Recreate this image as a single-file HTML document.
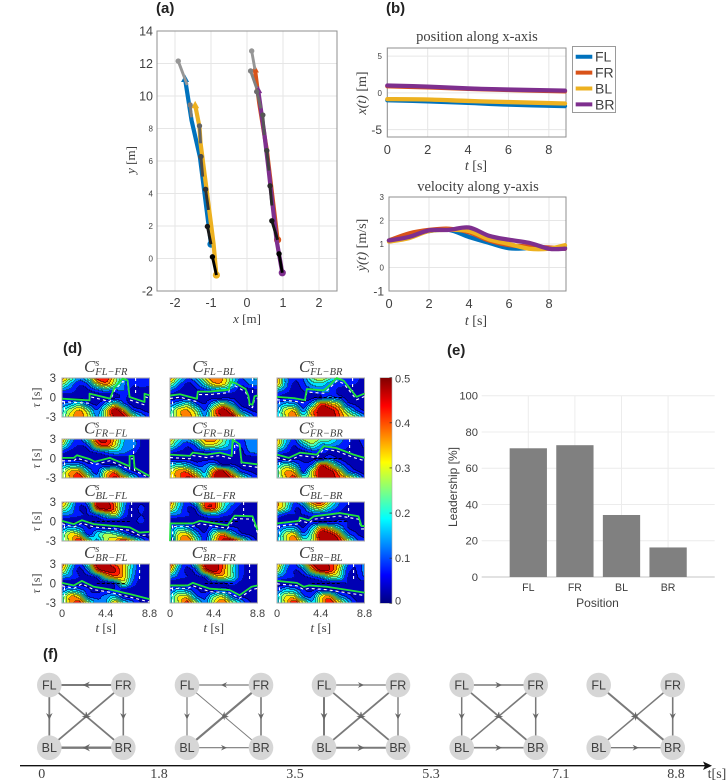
<!DOCTYPE html>
<html lang="en">
<head>
<meta charset="utf-8">
<title>Leadership analysis figure</title>
<style>
html,body{margin:0;padding:0;background:#fff;width:727px;height:784px;overflow:hidden}
svg{display:block}
text{font-family:"Liberation Sans",sans-serif;fill:#404040}
.serif{font-family:"Liberation Serif",serif}
.panel{font-weight:bold;font-size:15px;fill:#222}
.ital{font-style:italic}
</style>
</head>
<body>
<svg id="fig" xmlns="http://www.w3.org/2000/svg" width="727" height="784" viewBox="0 0 727 784">
  <defs>
    <filter id="soft" x="0" y="0" width="100%" height="100%" color-interpolation-filters="sRGB"><feGaussianBlur stdDeviation="0.35"/></filter>
  </defs>
  <rect x="0" y="0" width="727" height="784" fill="#fff"/>
  <text class="panel" x="156" y="13">(a)</text>
  <text class="panel" x="386" y="13">(b)</text>
  <text class="panel" x="63" y="353">(d)</text>
  <text class="panel" x="447" y="355">(e)</text>
  <text class="panel" x="43" y="659">(f)</text>

  <text class="serif" font-size="13" text-anchor="middle" x="247" y="323"><tspan class="ital">x</tspan> [m]</text>
  <text class="serif" font-size="13" text-anchor="middle" transform="translate(135,160) rotate(-90)"><tspan class="ital">y</tspan> [m]</text>

  <text class="serif" font-size="14.5" text-anchor="middle" x="477" y="41">position along x-axis</text>
  <text class="serif" font-size="14" text-anchor="middle" x="476" y="170"><tspan class="ital">t</tspan> [s]</text>
  <text class="serif" font-size="14" text-anchor="middle" transform="translate(366,93) rotate(-90)"><tspan class="ital">x(t)</tspan> [m]</text>

  <text class="serif" font-size="14.5" text-anchor="middle" x="478" y="191">velocity along y-axis</text>
  <text class="serif" font-size="14" text-anchor="middle" x="476" y="325"><tspan class="ital">t</tspan> [s]</text>
  <text class="serif" font-size="14" text-anchor="middle" transform="translate(366,245) rotate(-90)"><tspan class="ital">ẏ(t)</tspan> [m/s]</text>

  <text font-size="12" text-anchor="middle" transform="translate(457,487) rotate(-90)">Leadership [%]</text>
  <text font-size="12" text-anchor="middle" x="597.5" y="607">Position</text>

  <text class="serif" font-size="14" text-anchor="middle" x="717" y="778" fill="#222">t[s]</text>
</svg>

<script>
/* ---------- (a) trajectories: [x, y] pairs ---------- */
const trajFL = [[-1.0,0.88],[-1.31,6.27],[-1.54,8.5],[-1.72,11.05]];
const trajFR = [[0.85,1.15],[0.55,6.68],[0.34,9.55],[0.22,11.64]];
const trajBL = [[-0.85,-1.02],[-0.93,0.94],[-1.29,7.1],[-1.32,8.1],[-1.44,9.44]];
const trajBR = [[0.98,-0.88],[0.82,1.15],[0.59,5.66],[0.48,7.7],[0.31,10.37]];
const windowSegments = [
  [[-0.85,-1.02],[-0.96,0.10]],[[-1.0,0.88],[-1.10,1.97]],[[-1.07,2.99],[-1.15,4.26]],[[-1.23,5.04],[-1.28,6.27]],
  [[-1.29,7.09],[-1.32,8.16]],[[-1.54,8.69],[-1.58,9.45]],[[-1.66,10.68],[-1.91,12.15]],
  [[0.98,-0.88],[0.89,0.29]],[[0.85,1.15],[0.69,2.32]],[[0.69,3.26],[0.64,4.47]],[[0.61,5.41],[0.55,6.64]],
  [[0.48,7.6],[0.44,8.83]],[[0.39,9.24],[0.27,10.27]],[[0.27,10.47],[0.10,11.54]],[[0.22,11.64],[0.13,12.77]]
];
const trajXTicks = [-2,-1,0,1,2];
const trajYTicks = [14,12,10,8,6,4,2,0,-2];

/* ---------- (b) time series ---------- */
const posTimes = [0,2,4,6,8.8];
const posFL = [-1.0,-1.15,-1.35,-1.6,-1.8];
const posFR = [0.9,0.75,0.55,0.4,0.2];
const posBL = [-0.85,-0.9,-1.1,-1.25,-1.45];
const posBR = [1.0,0.85,0.6,0.45,0.3];
const velTimes = [0,1,2,3,4,5,6,7,8,8.8];
const velFL = [1.15,1.4,1.55,1.6,1.3,1.05,0.82,0.82,0.8,0.85];
const velFR = [1.15,1.45,1.6,1.65,1.5,1.15,0.95,0.9,0.85,0.8];
const velBL = [1.1,1.25,1.55,1.6,1.55,1.2,1.0,0.8,0.8,0.95];
const velBR = [1.15,1.3,1.58,1.6,1.7,1.35,1.18,1.05,0.8,0.8];
const timeTicks = [0,2,4,6,8];
const posYTicks = [5,0,-5];
const velYTicks = [3,2,1,0,-1];
const seriesNames = ['FL','FR','BL','BR'];
const seriesColors = ['#0072bd','#d95319','#edb120','#7e2f8e'];

/* ---------- (d) correlation grids, x100; rows tau=3..-3, cols t=0..8.8 ---------- */
const cFLFR = [[38,25,12,22,42,44,30,14,6,6,6],[26,14,6,10,28,36,25,12,6,7,6],[10,8,3,4,8,12,9,10,3,3,3],[3,3,2,2,3,2,3,6,3,2,3],[10,14,20,8,4,14,26,12,3,2,2],[18,28,35,25,10,29,48,35,12,6,3],[20,32,38,30,14,30,46,48,30,15,8]];
const cFLBL = [[38,22,10,16,30,40,35,22,10,14,16],[26,12,4,8,20,32,32,20,6,10,12],[10,5,3,4,6,10,12,8,3,3,4],[3,3,3,2,3,3,3,4,3,2,3],[10,16,22,10,5,18,28,16,4,2,2],[18,32,35,25,10,35,48,37,14,6,3],[20,32,38,30,15,34,46,48,32,16,8]];
const cFLBR = [[38,14,6,10,24,30,22,12,8,6,4],[34,14,4,8,16,18,12,8,6,5,3],[14,8,3,5,8,12,10,4,3,3,3],[5,4,4,3,3,6,12,8,3,2,3],[10,16,14,6,16,40,35,28,8,4,3],[14,30,32,12,35,48,48,39,23,10,4],[16,30,40,22,36,48,50,42,32,24,12]];
const cFRFL = [[36,16,8,24,44,46,34,16,14,5,5],[25,10,5,10,35,41,30,15,14,5,4],[8,4,3,4,8,12,16,12,8,3,3],[3,3,2,3,2,3,3,4,3,3,3],[12,16,14,6,8,4,6,4,3,3,2],[23,35,35,16,8,28,35,14,6,3,2],[26,36,44,30,12,34,46,36,20,8,4]];
const cFRBL = [[34,20,14,26,36,38,26,14,6,14,14],[25,12,6,12,28,28,21,12,6,12,14],[8,5,4,5,6,8,8,8,3,10,12],[3,3,3,3,3,3,3,3,3,3,3],[16,20,16,8,10,16,6,6,3,3,2],[28,37,37,23,14,39,46,28,10,5,3],[30,38,46,38,20,44,48,44,28,14,6]];
const cFRBR = [[36,18,10,26,30,24,22,14,8,4,8],[32,14,5,14,23,14,14,10,6,3,6],[12,7,3,4,7,8,4,4,4,3,4],[4,3,3,4,3,4,10,4,3,3,3],[14,23,16,6,12,41,32,16,6,3,2],[23,35,32,8,30,48,48,35,14,6,2],[22,34,42,24,30,48,50,42,34,22,8]];
const cBLFL = [[38,22,6,16,46,48,36,16,4,4,4],[28,16,5,8,41,48,39,14,3,6,3],[12,10,6,5,10,20,28,10,3,5,3],[4,3,3,3,3,4,4,3,3,6,3],[10,16,12,5,6,4,6,3,2,3,2],[21,32,28,8,18,26,24,16,6,2,2],[22,32,44,28,14,28,34,44,30,16,6]];
const cBLFR = [[38,20,8,22,40,42,24,14,6,3,4],[32,16,5,8,39,41,21,8,4,3,3],[12,10,6,4,10,14,8,5,3,3,3],[3,3,3,3,3,3,3,3,3,3,3],[8,18,14,6,3,10,6,6,4,2,2],[10,30,32,16,6,25,37,21,8,4,2],[4,32,40,24,8,30,46,48,32,14,4]];
const cBLBR = [[36,26,10,18,38,42,28,12,6,4,4],[34,23,6,8,23,28,16,8,4,3,3],[12,6,5,5,7,6,6,4,3,3,3],[3,3,3,3,5,3,3,6,5,3,3],[8,14,14,5,16,35,30,18,6,3,3],[12,28,32,12,25,48,48,37,14,6,3],[14,28,40,24,26,46,50,46,30,12,6]];
const cBRFL = [[38,20,6,24,48,50,40,34,18,5,5],[32,14,4,12,39,48,46,34,16,5,3],[14,10,5,4,8,28,37,34,14,4,3],[3,3,3,3,3,3,8,26,10,3,3],[10,16,12,6,3,4,6,5,3,3,2],[21,35,30,10,8,12,16,5,3,2,2],[22,36,42,26,12,14,34,20,12,5,3]];
const cBRFR = [[42,18,6,22,46,50,40,24,8,4,4],[34,12,4,10,39,48,39,23,8,4,3],[14,8,5,4,8,28,32,23,8,3,3],[3,3,3,3,3,3,4,8,4,3,3],[8,16,12,6,3,4,8,4,3,3,2],[16,30,30,12,8,23,28,12,5,3,3],[18,30,42,26,12,30,40,28,16,6,3]];
const cBRBL = [[36,16,8,24,44,50,44,34,12,5,12],[30,12,5,10,32,46,44,30,8,5,12],[12,8,5,4,8,14,25,23,6,4,10],[3,3,3,3,3,3,3,4,5,3,3],[8,16,14,6,4,8,6,4,3,3,2],[16,30,30,12,10,30,35,16,8,3,2],[18,32,44,30,16,32,44,34,18,6,3]];
const heatGrids = [cFLFR,cFLBL,cFLBR,cFRFL,cFRBL,cFRBR,cBLFL,cBLFR,cBLBR,cBRFL,cBRFR,cBRBL];
const heatSubs = ['FL−FR','FL−BL','FL−BR','FR−FL','FR−BL','FR−BR','BL−FL','BL−FR','BL−BR','BR−FL','BR−FR','BR−BL'];

/* maximum-correlation ridge: [t, tau] pairs */
const ridgeFLFR = [[0,-0.18],[2.77,-0.44],[2.77,0.59],[4.83,-0.18],[5.3,1.6],[6.1,2.9],[6.6,2.64],[6.8,0.08],[8.3,-0.69],[8.3,0.59],[8.8,0.33]];
const ridgeFLBL = [[0,0.3],[1,0.5],[2.7,-0.2],[2.8,0.9],[4,0.9],[5.9,1.2],[6.1,2.4],[6.6,2.2],[7.6,1.3],[7.9,0.2],[8,-1],[8.3,-1.1],[8.5,0.2],[8.8,0.3]];
const ridgeFLBR = [[0,0.1],[1.7,-0.1],[2.8,-0.4],[3,1.3],[4.7,1.1],[5.3,1.9],[6,3],[6.7,2.6],[8,0.1],[8.8,0.6]];
const ridgeFRFL = [[0,0.1],[1.2,0.1],[1.5,0.5],[2.8,-0.1],[3.3,-0.5],[4.8,0.1],[6.8,-1.2],[6.8,0.4],[7.2,0.4],[7.3,-1.4],[8.8,-2.7]];
const ridgeFRBL = [[0,0.6],[2,0.4],[2.3,0.9],[3.7,0.6],[5,0.9],[6.2,0.4],[6.3,2.9],[7,2.2],[7.2,-0.6],[8.8,-0.9]];
const ridgeFRBR = [[0,0.6],[1.2,0.1],[2.3,0.9],[4,0.6],[4.7,1.9],[6,1.6],[7.7,0.6],[8.8,0.1]];
const ridgeBLFL = [[0,0.1],[1.2,-0.4],[2,0.2],[3.2,-0.4],[6.8,-0.9],[7.8,-1.7],[8.8,-1.6]];
const ridgeBLFR = [[0,-3],[0.05,-0.3],[2.3,-0.3],[3,0.1],[5.8,-0.6],[6.5,0.9],[8.3,0.8],[8.8,-1.3]];
const ridgeBLBR = [[0,-0.3],[2.2,0.1],[2.3,0.6],[3.2,0.2],[3.7,0.8],[6.3,1.3],[8.2,0.8],[8.5,-0.7],[8.8,-0.7]];
const ridgeBRFL = [[0,0.1],[1.2,-0.3],[2,0.4],[3.2,-0.5],[4.8,-0.9],[7,-1.7],[8.8,-2.4]];
const ridgeBRFR = [[0,-0.3],[1.8,-0.3],[2.3,0.1],[4,-0.8],[6,-1],[7,-1.8],[8.2,-0.5],[8.8,-0.3]];
const ridgeBRBL = [[0,0.4],[2,0.1],[2.7,-0.5],[3.2,-0.3],[5,-0.5],[8.8,-1.4]];
const ridges = [ridgeFLFR,ridgeFLBL,ridgeFLBR,ridgeFRFL,ridgeFRBL,ridgeFRBR,ridgeBLFL,ridgeBLFR,ridgeBLBR,ridgeBRFL,ridgeBRFR,ridgeBRBL];
const rightDashTimes = [7.4,8.3,7.6,7.2,6.5,7.3,7.0,7.4,7.2,7.8,8.0,7.7];
const zeroDashRanges = [null,null,[3.7,6.7],null,null,[3.7,6.7],[2.5,7],[3,7],[3.7,7],[3.5,6.5],[3.5,6.5],[3.5,6.5]];
const heatTimeTicks = [0,4.4,8.8];
const heatTauTicks = [3,0,-3];
const colorbarTicks = [0,0.1,0.2,0.3,0.4,0.5];

/* ---------- (e) leadership ---------- */
const barCategories = ['FL','FR','BL','BR'];
const barValues = [71,72.7,34.2,16.3];
const barYTicks = [0,20,40,60,80,100];

/* ---------- (f) networks ---------- */
const netTimes = ['0','1.8','3.5','5.3','7.1','8.8'];
const netTimeCenters = [41.7,159,295,431,560.7,676];
const netEdges0 = [['FR','FL',2],['FL','BL',1.8],['FR','BL',1.8],['FL','BR',1.8],['FR','BR',1.6],['BR','BL',2.4]];
const netEdges1 = [['FR','FL',1.2],['FL','BL',1.2],['FR','BL',2.2],['BR','FL',0.9],['FR','BR',1.6],['BL','BR',1.1]];
const netEdges2 = [['FL','FR',1.2],['FL','BL',2],['FL','BR',1.8],['FR','BL',1.8],['FR','BR',1.4],['BL','BR',2]];
const netEdges3 = [['FL','FR',1.6],['FL','BL',1.5],['FL','BR',1.8],['FR','BL',1.6],['FR','BR',1.5],['BL','BR',1.6]];
const netEdges4 = [['FL','BR',2],['BL','FR',1.5],['FR','BR',1.6],['BL','BR',1.3]];
const networks = [netEdges0,netEdges1,netEdges2,netEdges3,netEdges4];

/* ---------- helpers ---------- */
const NS = 'http://www.w3.org/2000/svg';
const fig = document.getElementById('fig');
function mk(tag, attrs, parent){
  const e = document.createElementNS(NS, tag);
  for (const k in attrs) e.setAttribute(k, attrs[k]);
  (parent || fig).appendChild(e);
  return e;
}
function linear(d0,d1,r0,r1){ return v => r0 + (v-d0)*(r1-r0)/(d1-d0); }
function poly(pts){ return pts.map(p => p[0].toFixed(2)+','+p[1].toFixed(2)).join(' '); }
function smoothPath(pts){
  let d = 'M'+pts[0][0].toFixed(2)+' '+pts[0][1].toFixed(2);
  for (let i=0;i<pts.length-1;i++){
    const p0=pts[Math.max(i-1,0)],p1=pts[i],p2=pts[i+1],p3=pts[Math.min(i+2,pts.length-1)];
    d += ' C'+(p1[0]+(p2[0]-p0[0])/6).toFixed(2)+' '+(p1[1]+(p2[1]-p0[1])/6).toFixed(2)+' '+
         (p2[0]-(p3[0]-p1[0])/6).toFixed(2)+' '+(p2[1]-(p3[1]-p1[1])/6).toFixed(2)+' '+p2[0].toFixed(2)+' '+p2[1].toFixed(2);
  }
  return d;
}
function jetRGB(v){
  v = Math.max(0,Math.min(1,v));
  const c = x => Math.round(255*Math.max(0,Math.min(1,1.5-Math.abs(4*v-x))));
  return [c(3),c(2),c(1)];
}
function jet(v){ return 'rgb('+jetRGB(v).join(',')+')'; }
function mixDark(rgb){
  return 'rgb('+rgb.map(x=>Math.round(x*0.62)).join(',')+')';
}
function boxAxes(name,L,T,R,B,xs,ys){
  const g = mk('g',{});
  
  
  xs.forEach(x => {
    const l = mk('line',{x1:x,x2:x,y1:T,y2:B,stroke:'#e6e6e6','stroke-width':1},g);
    
    
  });
  ys.forEach(y => {
    const l = mk('line',{x1:L,x2:R,y1:y,y2:y,stroke:'#e6e6e6','stroke-width':1},g);
    
    
  });
  const box = mk('rect',{x:L,y:T,width:R-L,height:B-T,fill:'none',stroke:'#8f8f8f','stroke-width':1},g);
  
  
  return g;
}
function tickText(str,x,y,size,anchor,g,cls){
  const t = mk('text',{x:x,y:y,'font-size':size,'text-anchor':anchor},g);
  if (cls) t.setAttribute('class',cls);
  t.textContent = str;
  
  
  return t;
}

/* ---------- (a) ---------- */
(function(){
  const X = linear(-2.5,2.5,157,337), Y = linear(14,-2,31,291);
  const g = boxAxes('trajectory-axes',157,31,337,291,trajXTicks.map(X),trajYTicks.map(Y));
  trajYTicks.forEach(v => {
    const big = v>=10 || v<0;
    tickText(v,153,Y(v)+(big?4.5:3),big?12.5:8,'end',g);
  });
  trajXTicks.forEach(v => tickText(v,X(v),307,12.5,'middle',g));
  const series = [trajFL,trajBL,trajFR,trajBR];
  const names = ['FL','BL','FR','BR'];
  const colors = [seriesColors[0],seriesColors[2],seriesColors[1],seriesColors[3]];
  series.forEach((s,i) => {
    const pts = s.map(p => [X(p[0]),Y(p[1])]);
    const line = mk('polyline',{points:poly(pts),fill:'none',stroke:colors[i],'stroke-width':4.2,'stroke-linejoin':'round'},g);
    
    
    const start = mk('circle',{cx:pts[0][0],cy:pts[0][1],r:3.6,fill:colors[i]},g);
    
    
    const e = pts[pts.length-1];
    const tri = mk('polygon',{points:poly([[e[0],e[1]-3],[e[0]-3,e[1]+2.5],[e[0]+3,e[1]+2.5]]),fill:colors[i],stroke:colors[i],'stroke-width':1.2},g);
    
    
  });
  windowSegments.forEach((seg,i) => {
    const idx = i<7 ? i : i-7;
    const n = i<7 ? 6 : 7;
    const shade = Math.round(idx/n*150);
    const col = 'rgb('+shade+','+shade+','+shade+')';
    const a = [X(seg[0][0]),Y(seg[0][1])], b = [X(seg[1][0]),Y(seg[1][1])];
    const l = mk('line',{x1:a[0],y1:a[1],x2:b[0],y2:b[1],stroke:col,'stroke-width':2.9},g);
    
    
    const d = mk('circle',{cx:b[0],cy:b[1],r:2.7,fill:col},g);
    
    
  });
})();

/* ---------- (b) ---------- */
(function(){
  const X = linear(0,8.85,387.3,566), Y = linear(6.1,-6,48,137);
  const g = boxAxes('position-axes',387.3,48,566,137,timeTicks.map(X),posYTicks.map(Y));
  posYTicks.forEach(v => {
    const big = v<0;
    tickText(v,382,Y(v)+(big?4.5:3),big?12:8,'end',g);
  });
  timeTicks.forEach(v => tickText(v,X(v),154,12.8,'middle',g));
  [posFL,posFR,posBL,posBR].forEach((s,i) => {
    const p = mk('path',{d:smoothPath(s.map((v,j)=>[X(posTimes[j]),Y(v)])),fill:'none',stroke:seriesColors[i],'stroke-width':4.3,'stroke-linecap':'round'},g);
    
    
  });
})();
(function(){
  const X = linear(0,8.85,389,566), Y = linear(3,-1,197,291);
  const g = boxAxes('velocity-axes',389,197,566,291,timeTicks.map(X),velYTicks.map(Y));
  velYTicks.forEach(v => {
    const big = v<0;
    tickText(v,384,Y(v)+(big?4.5:3),big?12:8,'end',g);
  });
  timeTicks.forEach(v => tickText(v,X(v),308,12.8,'middle',g));
  [velFL,velFR,velBL,velBR].forEach((s,i) => {
    const p = mk('path',{d:smoothPath(s.map((v,j)=>[X(velTimes[j]),Y(v)])),fill:'none',stroke:seriesColors[i],'stroke-width':4.3,'stroke-linecap':'round'},g);
    
    
  });
})();
/* legend */
(function(){
  const g = mk('g',{});
  
  
  const box = mk('rect',{x:572.5,y:46.5,width:43,height:66,fill:'#fff',stroke:'#9a9a9a','stroke-width':1},g);
  
  
  seriesNames.forEach((n,i) => {
    const y = 56.7 + i*15.9;
    const l = mk('line',{x1:575.7,x2:592.3,y1:y,y2:y,stroke:seriesColors[i],'stroke-width':4},g);
    
    
    const t = mk('text',{x:595,y:y+5,'font-size':14,fill:'#333'},g);
    t.textContent = n;
    
    
  });
})();

/* ---------- (d) ---------- */
(function(){
  const colsX = [62,170,277], rowsY = [378,439,502,564], W = 87.5, H = 39;
  const titleY = [372,433.5,496,558];
  function cr(a,b,c,d,t){ return 0.5*((2*b)+(c-a)*t+(2*a-5*b+4*c-d)*t*t+(3*b-a-3*c+d)*t*t*t); }
  function sample(grid,tx,ty){
    const nr=grid.length,nc=grid[0].length;
    const fx=tx*(nc-1),fy=ty*(nr-1);
    const ix=Math.min(Math.floor(fx),nc-2),iy=Math.min(Math.floor(fy),nr-2);
    const u=fx-ix,v=fy-iy;
    const rowAt=r=>{
      const R=grid[Math.max(0,Math.min(nr-1,r))];
      return cr(R[Math.max(ix-1,0)],R[ix],R[ix+1],R[Math.min(ix+2,nc-1)],u);
    };
    return Math.max(0,Math.min(49.9,cr(rowAt(iy-1),rowAt(iy),rowAt(iy+1),rowAt(iy+2),v)));
  }
  heatGrids.forEach((grid,idx) => {
    const col = idx%3, row = Math.floor(idx/3);
    const L = colsX[col], T = rowsY[row];
    const X = linear(0,8.8,L,L+W), Y = linear(3,-3,T,T+H);
    const g = mk('g',{});
    
    
    const cells = mk('g',{'shape-rendering':'crispEdges',filter:'url(#soft)'},g);
    const nx = 88, ny = 39;
    const lev = [];
    for (let j=0;j<ny;j++){ lev.push([]); for (let i=0;i<nx;i++){ lev[j].push(Math.floor(sample(grid,(i+0.5)/nx,(j+0.5)/ny)/5)); } }
    for (let j=0;j<ny;j++){
      let i=0;
      const key = k => {
        const l = lev[j][k];
        const edge = (k+1<nx && lev[j][k+1]!==l) || (j+1<ny && lev[j+1][k]!==l);
        return l*2+(edge?1:0);
      };
      while(i<nx){
        let s=i; const kk=key(i);
        while(i<nx && key(i)===kk) i++;
        const l=Math.floor(kk/2), ed=kk%2===1;
        const fill = ed ? mixDark(jetRGB((l+0.5)/10)) : jet((l+0.5)/10);
        const c = mk('rect',{x:L+s,y:T+j,width:i-s,height:1,fill:fill},cells);
        
        
      }
    }
    const border = mk('rect',{x:L,y:T,width:W,height:H,fill:'none',stroke:'#a8a8a8','stroke-width':1},g);
    
    
    /* significance dashes */
    const dashAttrs = {fill:'none',stroke:'#fff','stroke-width':1.1,'stroke-dasharray':'3 3'};
    const wp = ridges[idx].map(p => [X(p[0]),Y(Math.max(-3,Math.min(3,p[1]-0.45)))]);
    const w = mk('polyline',Object.assign({points:poly(wp)},dashAttrs),g);
    
    
    const lv = mk('line',Object.assign({x1:X(0.25),x2:X(0.25),y1:Y(-0.6),y2:Y(-3)},dashAttrs),g);
    
    
    const rv = mk('line',Object.assign({x1:X(rightDashTimes[idx]),x2:X(rightDashTimes[idx]),y1:Y(3),y2:Y(0.5)},dashAttrs),g);
    
    
    if (zeroDashRanges[idx]){
      const z = mk('line',{x1:X(zeroDashRanges[idx][0]),x2:X(zeroDashRanges[idx][1]),y1:Y(0),y2:Y(0),stroke:'#000','stroke-width':1,'stroke-dasharray':'3 2'},g);
      
      
    }
    const green = mk('polyline',{points:poly(ridges[idx].map(p=>[X(p[0]),Y(p[1])])),fill:'none',stroke:'#1fe23a','stroke-width':1.8,'stroke-linejoin':'round'},g);
    
    
    /* title */
    const t = mk('text',{x:L+W/2,y:titleY[row],class:'serif ital','text-anchor':'middle','font-size':17,fill:'#444'},g);
    
    
    t.appendChild(document.createTextNode('C'));
    const sup = mk('tspan',{'font-size':10,dy:-6},t);
    sup.textContent='s';
    const sub = mk('tspan',{'font-size':10.5,dy:9,dx:-4},t);
    sub.textContent=heatSubs[idx];
    /* ticks */
    if (col===0){
      heatTauTicks.forEach(v => tickText(v,56,Y(v)+4,11.5,'end',g));
      const tl = mk('text',{class:'serif','font-size':12,'text-anchor':'middle',transform:'translate('+(40)+','+(T+H/2)+') rotate(-90)'},g);
      
      
      const tau = mk('tspan',{class:'ital'},tl);
      tau.textContent='τ';
      tl.appendChild(document.createTextNode(' [s]'));
    }
    if (row===3){
      heatTimeTicks.forEach(v => tickText(v,X(v),617,11,'middle',g));
      const tb = mk('text',{class:'serif','font-size':13,'text-anchor':'middle',x:L+W/2,y:632},g);
      
      
      const tt = mk('tspan',{class:'ital'},tb);
      tt.textContent='t';
      tb.appendChild(document.createTextNode(' [s]'));
    }
  });
  /* colorbar */
  const cb = mk('g',{});
  
  
  const Yc = linear(0,0.5,603.3,377.7);
  const defs = mk('defs',{},cb);
  const lg = mk('linearGradient',{id:'jetBar',x1:0,y1:1,x2:0,y2:0},defs);
  for (let i=0;i<=32;i++){ mk('stop',{offset:(i/32).toFixed(3),'stop-color':jet(i/32)},lg); }
  const bar = mk('rect',{x:380,y:377.7,width:12,height:225.6,fill:'url(#jetBar)',stroke:'#aaa','stroke-width':0.6},cb);
  
  
  colorbarTicks.forEach(v => {
    const l = mk('line',{x1:389.5,x2:392,y1:Yc(v),y2:Yc(v),stroke:'#333','stroke-width':0.7},cb);
    
    
    tickText(v,395,Yc(v)+(v===0?1:(v===0.5?5:4)),11,'start',cb);
  });
})();

/* ---------- (e) ---------- */
(function(){
  const X = linear(0,5,481.7,714.7), Y = linear(0,100,577,395.7);
  const band = X(1)-X(0);
  const centers = barCategories.map((c,i)=>X(i+1));
  const g = mk('g',{});
  
  
  centers.forEach(x => {
    const l = mk('line',{x1:x,x2:x,y1:Y(100),y2:Y(0),stroke:'#ececec','stroke-width':1},g);
    
    
  });
  barYTicks.forEach(v => {
    const l = mk('line',{x1:X(0),x2:X(5),y1:Y(v),y2:Y(v),stroke:v===0?'#c4c4c4':'#ececec','stroke-width':1},g);
    
    
    tickText(v,478,Y(v)+4,11.2,'end',g);
  });
  barValues.forEach((v,i) => {
    const w = band*0.8;
    const r = mk('rect',{x:centers[i]-w/2,y:Y(v),width:w,height:Y(0)-Y(v),fill:'#808080'},g);
    
    
    tickText(barCategories[i],centers[i],591,10.6,'middle',g);
  });
})();

/* ---------- (f) ---------- */
(function(){
  const left = [49.3,187,324,461.7,598.7], sp = 74, top = 685, bot = 747.7, R = 12.3;
  networks.forEach((edges,n) => {
    const g = mk('g',{});
    
    
    const pos = {FL:[left[n],top],FR:[left[n]+sp,top],BL:[left[n],bot],BR:[left[n]+sp,bot]};
    edges.forEach(e => {
      const a=pos[e[0]],b=pos[e[1]];
      const dx=b[0]-a[0],dy=b[1]-a[1],len=Math.hypot(dx,dy),ux=dx/len,uy=dy/len;
      const l = mk('line',{x1:a[0],y1:a[1],x2:b[0],y2:b[1],stroke:'#7a7a7a','stroke-width':e[2]},g);
      
      
      const mx=(a[0]+b[0])/2,my=(a[1]+b[1])/2;
      const h=5+e[2],w=2.2+e[2]*0.6;
      const head=[[mx+ux*h/2,my+uy*h/2],[mx-ux*h/2-uy*w,my-uy*h/2+ux*w],[mx-ux*h/6,my-uy*h/6],[mx-ux*h/2+uy*w,my-uy*h/2-ux*w]];
      const p = mk('polygon',{points:poly(head),fill:'#666'},g);
      
      
    });
    Object.keys(pos).forEach(k => {
      const c = mk('circle',{cx:pos[k][0],cy:pos[k][1],r:R,fill:'#d6d6d6'},g);
      
      
      const t = mk('text',{x:pos[k][0],y:pos[k][1]+4.5,'text-anchor':'middle','font-size':12.5,fill:'#222'},g);
      t.textContent = k;
      
      
    });
  });
  const axis = mk('line',{x1:20,x2:706,y1:765.7,y2:765.7,stroke:'#111','stroke-width':1.3});
  
  
  const tip = mk('polygon',{points:'712,765.7 703,761.5 705,765.7 703,770',fill:'#111'});
  
  
  netTimes.forEach((s,i) => {
    const t = tickText(s,netTimeCenters[i],778,14,'middle',fig,'serif');
    t.setAttribute('fill','#222');
  });
})();
</script>
</body>
</html>
